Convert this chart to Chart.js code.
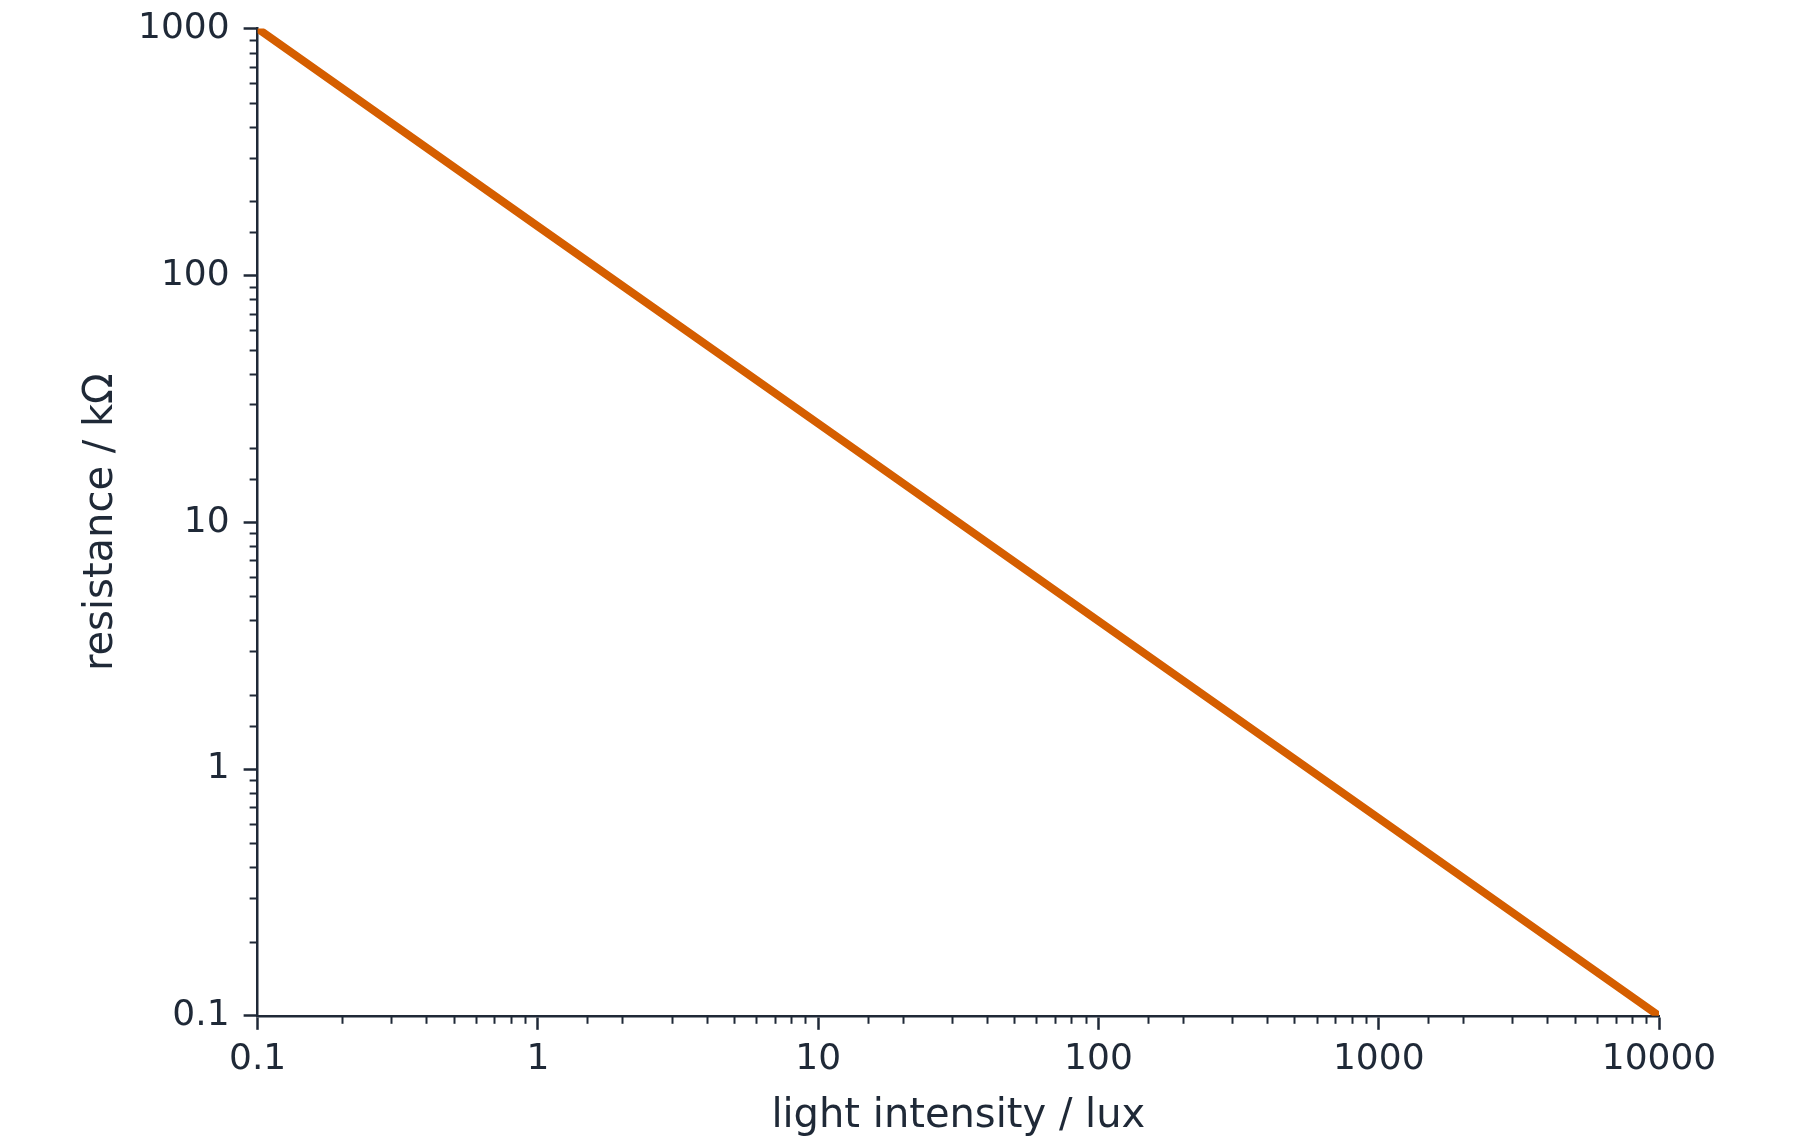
<!DOCTYPE html>
<html>
<head>
<meta charset="utf-8">
<script src="https://cdn.jsdelivr.net/npm/chart.js@4"></script>
<style>
  html, body { margin: 0; padding: 0; background: #fff; }
  #wrap { width: 1800px; height: 1148px; }
</style>
</head>
<body>
<div id="wrap"><canvas id="ldr_chart"></canvas></div>
<script>
  // light intensity (lux) and the resistance (kOhm)
  const lux_values = [0.1, 1, 10, 100, 1000, 10000];
  const resistance_values = [1000, 158, 25.1, 3.98, 0.631, 0.1];
  const x_range = [0.1, 10000];
  const y_range = [0.1, 1000];

  const ink = '#1f2937';
  const font_family = "'DejaVu Sans', sans-serif";

  function isDecade(v) {
    const e = Math.log10(v);
    return Math.abs(e - Math.round(e)) < 1e-9;
  }
  function decadeLabel(v) {
    if (!isDecade(v)) return '';
    return v >= 1 ? String(Math.round(v)) : String(Number(v.toPrecision(1)));
  }

  // short outward ticks for the minor (non decade) values
  const minorTicks = {
    id: 'minorTicks',
    afterDraw(chart) {
      const ctx = chart.ctx;
      ctx.save();
      ctx.strokeStyle = ink;
      ctx.lineWidth = 2;
      const xs = chart.scales.x, ys = chart.scales.y;
      xs.ticks.forEach(t => {
        if (isDecade(t.value)) return;
        const px = Math.round(xs.getPixelForValue(t.value)) + 0.5;
        ctx.beginPath();
        ctx.moveTo(px, xs.top);
        ctx.lineTo(px, xs.top + 8);
        ctx.stroke();
      });
      ys.ticks.forEach(t => {
        if (isDecade(t.value)) return;
        const py = Math.round(ys.getPixelForValue(t.value)) + 0.5;
        ctx.beginPath();
        ctx.moveTo(ys.right, py);
        ctx.lineTo(ys.right - 8, py);
        ctx.stroke();
      });
      ctx.restore();
    }
  };

  const ldr_data = {
    datasets: [{
      label: 'resistance',
      data: lux_values.map((x, i) => ({ x: x, y: resistance_values[i] })),
      borderColor: '#d55e00',
      backgroundColor: '#d55e00',
      borderWidth: 8,
      pointRadius: 0,
      tension: 0
    }]
  };

  const ldr_config = {
    type: 'line',
    data: ldr_data,
    options: {
      responsive: true,
      maintainAspectRatio: false,
      animation: false,
      layout: { padding: { left: 78, right: 141, top: 17, bottom: 7 } },
      plugins: {
        legend: { display: false },
        tooltip: { enabled: false }
      },
      scales: {
        x: {
          type: 'logarithmic',
          min: x_range[0],
          max: x_range[1],
          border: { display: true, color: ink, width: 2.5 },
          grid: {
            drawOnChartArea: false,
            tickLength: 14,
            tickWidth: 2.5,
            tickColor: c => isDecade(c.tick.value) ? ink : 'rgba(0,0,0,0)'
          },
          ticks: {
            autoSkip: false,
            maxRotation: 0,
            padding: 8,
            color: ink,
            font: { family: font_family, size: 36 },
            callback: v => decadeLabel(v)
          },
          title: {
            display: true,
            text: 'light intensity / lux',
            color: ink,
            font: { family: font_family, size: 40 },
            padding: { top: 4, bottom: 0 }
          }
        },
        y: {
          type: 'logarithmic',
          min: y_range[0],
          max: y_range[1],
          // the top label only needs half its height above the plot
          afterFit: s => { s.paddingTop = Math.max(s.paddingTop - 7, 0); },
          border: { display: true, color: ink, width: 2.5 },
          grid: {
            drawOnChartArea: false,
            tickLength: 14,
            tickWidth: 2.5,
            tickColor: c => isDecade(c.tick.value) ? ink : 'rgba(0,0,0,0)'
          },
          ticks: {
            autoSkip: false,
            padding: 14,
            color: ink,
            font: { family: font_family, size: 36 },
            callback: v => decadeLabel(v)
          },
          title: {
            display: true,
            text: 'resistance / kΩ',
            color: ink,
            font: { family: font_family, size: 40 },
            padding: { top: 0, bottom: -2 }
          }
        }
      }
    },
    plugins: [minorTicks]
  };

  var ldr_chart = new Chart(
    document.getElementById('ldr_chart'),
    ldr_config
  );
</script>
</body>
</html>
